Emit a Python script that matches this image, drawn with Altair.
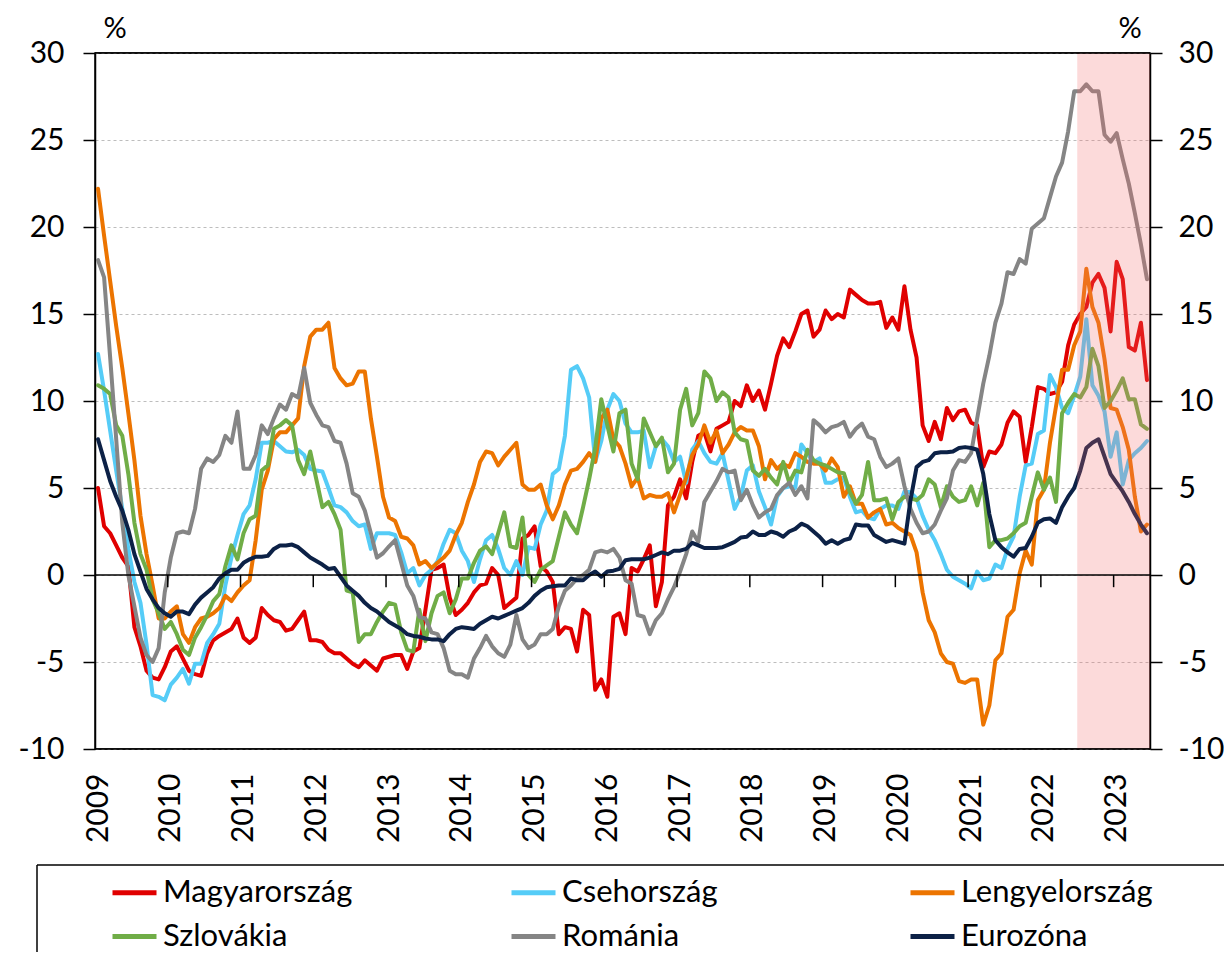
import altair as alt
import pandas as pd

# ---------------- data (monthly, Jan 2009 .. Jun 2023) ----------------
YEARS = list(range(2009, 2024))
N_MONTHS = 174
HIGHLIGHT_FROM = (2022, 7)

SERIES = ["Magyarország", "Csehország", "Lengyelország", "Szlovákia", "Románia", "Eurozóna"]
COLORS = ["#E00000", "#55CCF7", "#EC7400", "#70AD47", "#858585", "#0C2146"]

HU = [5.0, 2.8, 2.4, 1.7, 1.0, 0.5, -3.0, -4.1, -5.5, -5.9, -6.0, -5.3, -4.4, -4.1, -4.8, -5.5, -5.7, -5.8,
      -4.5, -3.75, -3.5, -3.3, -3.1, -2.5, -3.6, -3.9, -3.6, -1.9, -2.3, -2.6, -2.7, -3.2, -3.1, -2.6, -2.1,
      -3.75, -3.75, -3.85, -4.3, -4.5, -4.5, -4.8, -5.1, -5.3, -4.9, -5.2, -5.5, -4.8, -4.7, -4.6, -4.6, -5.4,
      -4.4,
      -4.2, -2.0, 0.3, 0.4, 0.6, -1.3, -2.3, -2.0, -1.6, -1.0, -0.6, -0.5, 0.4, 0.0, -1.9, -1.6, -1.3, 2.1,
      2.3, 2.8, 0.5, 0.2, -0.4, -3.4, -3.0, -3.1, -4.4, -2.0, -2.3, -6.6, -6.0, -7.0, -2.4, -2.2, -3.4, 0.4,
      0.2, 0.9, 1.7, -1.8, -0.4, 4.0, 4.5, 5.5, 4.4, 6.5, 8.0, 8.2, 7.1, 8.4, 8.6, 8.8, 10.0, 9.7, 10.9, 10.0,
      10.6, 9.5, 11.0, 12.6, 13.6, 13.1, 14.0, 15.0, 15.2, 13.7, 14.1, 15.2, 14.7, 15.0, 14.8, 16.4, 16.1,
      15.8, 15.6, 15.6, 15.7, 14.2, 14.8, 14.1, 16.6, 14.1, 12.5, 8.6, 7.7, 8.8, 7.8, 9.6, 8.9, 9.4,
      9.5, 8.75, 8.6, 6.2, 7.1, 7.0, 7.5, 8.75, 9.4, 9.1, 6.5, 8.5, 10.8, 10.7, 10.4, 10.5, 11.1, 13.2, 14.4,
      15.0, 15.4, 16.8, 17.3, 16.5, 14.0, 18.0, 17.0, 13.1, 12.9, 14.5, 11.2]

CZ = [12.7, 10.6, 8.3, 6.0, 3.8, 1.5, -0.4, -1.6, -4.0, -6.9, -7.0, -7.2, -6.3, -5.9, -5.4, -6.25, -5.1, -5.1,
      -3.9, -3.4, -2.8, -0.6, 1.0, 2.3, 3.5, 4.0, 5.5, 7.6, 7.6, 7.7, 7.4, 7.1, 7.05, 7.2, 6.9, 6.1, 6.0, 5.95,
      5.0, 4.0, 3.9, 3.6, 3.1, 2.8, 2.9, 1.5, 2.4, 2.4, 2.4, 2.3, 1.3, 0.1, 0.4, -0.6, 0.0, 0.3, 0.8, 1.8, 2.6,
      2.4, 1.4, 0.8, -0.4, 0.9, 2.0, 2.3, 1.5, 0.4, 0.0, 0.8, 0.0, 1.6, 1.5, 2.9, 3.7, 5.8, 6.1, 8.0, 11.8,
      12.0, 11.3, 10.2, 6.5, 7.7, 9.5, 10.4, 10.0, 8.7, 8.2, 8.2, 8.3, 6.2, 7.4, 7.8, 7.4, 6.5, 6.8, 5.3, 7.2,
      7.7, 7.0, 6.5, 6.4, 7.0, 5.4, 3.8, 4.5, 6.0, 6.3, 4.8, 3.9, 2.9, 4.5, 5.0, 5.1, 5.0, 7.5, 7.0, 6.5, 6.7,
      5.3, 5.3, 5.5, 5.6, 4.5, 3.6, 3.7, 3.3, 3.2, 3.8, 4.0, 4.0, 3.8, 4.8, 4.75, 4.4, 3.4, 2.6, 2.0, 1.2, 0.3,
      -0.1, -0.3,
      -0.5, -0.77, 0.2, -0.3, -0.2, 0.6, 0.4, 1.5, 2.2, 4.5, 6.3, 6.4, 8.1, 8.3, 11.5, 10.8, 9.6, 9.3, 10.3,
      11.4, 14.7, 10.9, 10.3, 9.4, 6.8, 8.2, 5.2, 6.6, 7.0, 7.3, 7.7]

PL = [22.2, 19.5, 16.9, 14.3, 11.9, 9.3, 6.6, 3.4, 1.2, -0.6, -2.5, -2.5, -2.1, -1.8, -3.4, -3.9, -3.0, -2.5,
      -2.4, -2.2, -1.9, -1.2, -1.5, -1.0, -0.6, -0.3, 2.0, 4.9, 6.0, 7.8, 8.2, 8.2, 8.6, 9.0, 12.0, 13.7, 14.1,
      14.1, 14.5, 11.9, 11.3, 10.9, 11.0, 11.7, 11.7, 9.0, 6.8, 4.5, 3.3, 3.1, 2.2, 2.1, 1.7,
      0.6, 0.8, 0.4, 0.7, 1.0, 1.4, 2.3, 3.0, 4.2, 5.2, 6.5, 7.1, 7.0, 6.3, 6.8, 7.2, 7.6, 5.2, 4.9, 4.9, 5.2,
      4.0, 3.2, 4.0, 5.2, 6.0, 6.1, 6.5, 7.0, 6.5, 9.0, 9.5, 7.8, 7.4, 6.4, 5.1, 5.6, 4.4, 4.6, 4.5, 4.5, 4.7,
      3.6, 4.6, 5.6, 6.9, 7.5, 8.6, 7.6, 8.3, 7.0, 7.5, 8.2, 8.5, 8.3, 8.3, 7.4, 5.5, 6.6, 6.1, 6.4, 6.2, 7.0,
      6.8, 6.5, 6.4, 6.4, 6.0, 6.7, 6.2, 4.5, 5.1, 4.1, 4.1, 3.3, 3.6, 3.8, 2.9, 3.0, 2.7, 2.5, 2.3, 1.3, -1.0,
      -2.6, -3.3, -4.5, -5.0, -5.1, -6.1,
      -6.2, -6.0, -6.0, -8.6, -7.5, -4.9, -4.5, -2.4, -2.0, 0.1, 1.4, 0.6, 4.3, 4.9, 7.6, 9.7, 11.8, 11.8,
      13.2, 14.0, 17.6, 15.4, 14.5, 12.4, 9.6, 9.5, 8.5, 7.2, 4.5, 2.5, 2.9]

SK = [10.9, 10.7, 10.4, 8.6, 8.0, 5.8, 3.0, 1.2, 0.3, -1.4, -2.2, -3.1, -2.7, -3.4, -4.3, -4.6, -3.6, -3.0,
      -2.3, -1.5, -1.1, 0.5, 1.7, 0.9, 2.4, 3.2, 3.4, 6.0, 6.3, 8.4, 8.6, 8.9, 8.6, 6.6, 5.8, 7.1, 5.5, 3.9,
      4.2, 3.5, 2.6, -0.9, -1.0, -3.85, -3.4, -3.4, -2.7, -2.1, -1.6, -1.7, -3.3, -4.3, -4.4,
      -2.0, -3.8, -2.2, -1.2, -1.0, -2.2, -1.4, -0.2, -0.2, 0.7, 1.4, 1.65, 1.2, 2.4, 3.6, 1.65, 1.55, 3.3,
      0.0, -0.4, 0.3, 0.55, 0.8, 2.2, 3.6, 2.9, 2.4, 3.9, 5.5, 7.3, 10.1, 8.6, 7.1, 9.3, 9.5, 6.4, 5.5, 9.0,
      8.2, 7.4, 7.9, 5.9, 6.4, 9.5, 10.7, 8.6, 9.3, 11.7, 11.3, 10.0, 10.5, 10.2, 8.2, 7.8, 7.7, 6.0, 5.7, 6.1,
      5.6, 5.2, 6.5, 5.3, 6.0, 5.9, 7.2, 6.6, 6.4, 6.3, 6.1, 5.9, 5.85, 4.75, 4.1, 4.6, 6.5, 4.3, 4.3, 4.4,
      3.2, 4.2, 4.5, 4.4, 4.3, 4.6, 5.5, 5.2, 3.9, 5.1, 4.5, 4.2,
      4.3, 5.1, 4.0, 5.3, 1.6, 2.0, 2.0, 2.1, 2.4, 2.8, 3.0, 4.5, 5.9, 4.9, 5.6, 4.2, 9.3, 9.9, 10.4, 10.2,
      10.8, 13.0, 12.0, 9.6, 10.0, 10.6, 11.3, 10.1, 10.1, 8.65, 8.4]

RO = [18.1, 17.1, 12.5, 7.8, 3.0, 0.0, -1.8, -3.6, -4.6, -5.0, -4.2, -1.0, 1.0, 2.4, 2.5, 2.4, 3.8, 6.1, 6.7,
      6.5, 6.9, 8.0, 7.6, 9.4, 6.1, 6.1, 6.9, 8.6, 8.1, 9.0, 9.8, 9.5, 10.4, 10.2, 11.9, 9.9, 9.2, 8.6, 8.5,
      7.7, 7.6, 6.4, 4.7, 4.5, 3.7, 2.4, 1.0, 1.25, 1.65, 2.0, 0.7, -0.6, -1.2,
      -2.4, -2.5, -3.3, -3.4, -4.2, -5.5, -5.7, -5.7, -5.9, -4.8, -4.2, -3.5, -4.1, -4.5, -4.7, -4.0, -2.3,
      -3.7, -4.2, -4.0, -3.4, -3.4, -3.1, -1.8, -0.9, -0.6, -0.2, 0.0, 0.3, 1.3, 1.4, 1.3, 1.5, 1.0, -0.3,
      -0.5, -2.3, -2.4, -3.4, -2.6, -2.2, -1.4, -0.7, 0.2, 1.2, 2.5, 1.9, 4.2, 4.8, 5.4, 6.1, 5.9, 6.0, 4.3,
      4.9, 4.0, 3.3, 3.6, 3.8, 4.6, 5.0, 5.3, 4.6, 5.1, 4.4, 8.9, 8.6, 8.2, 8.5, 8.6, 8.8, 7.95, 8.4, 8.7,
      7.95, 7.8, 6.8, 6.2, 6.4, 6.7, 5.1, 3.8, 3.0, 2.4, 2.5, 2.9, 3.7, 4.4, 6.0, 6.6,
      6.5, 7.0, 9.0, 11.0, 12.6, 14.5, 15.6, 17.4, 17.3, 18.15, 17.9, 19.9, 20.2, 20.5, 21.7, 22.9, 23.7,
      25.5, 27.8, 27.8, 28.2, 27.8, 27.8, 25.3, 24.9, 25.4, 23.9, 22.5, 20.8, 19.0, 17.0]

EA = [7.8, 6.6, 5.4, 4.5, 3.7, 2.6, 1.2, 0.2, -0.8, -1.4, -1.9, -2.2, -2.4, -2.1, -2.1, -2.25, -1.7, -1.3,
      -1.0, -0.7, -0.2, 0.1, 0.3, 0.3, 0.7, 0.9, 1.05, 1.05, 1.1, 1.5, 1.7, 1.7, 1.75, 1.6, 1.3, 1.0, 0.8, 0.6,
      0.35, 0.4, -0.1, -0.6, -0.9, -1.2, -1.6, -1.9, -2.1, -2.4, -2.7, -2.9, -3.1, -3.4, -3.5, -3.55,
      -3.65, -3.7, -3.7, -3.8, -3.4, -3.1, -3.0, -3.05, -3.1, -2.8, -2.6, -2.4, -2.5, -2.35, -2.2, -2.05, -1.9,
      -1.6, -1.2, -0.9, -0.7, -0.65, -0.6, -0.6, -0.2, -0.3, -0.3, 0.0, 0.2, -0.1, 0.2, 0.25, 0.35,
      0.85, 0.9, 0.9, 0.9, 1.0, 1.15, 1.3, 1.2, 1.4, 1.4, 1.5, 1.85, 1.7, 1.55, 1.55, 1.55, 1.6, 1.75, 1.9,
      2.15, 2.2, 2.5, 2.3, 2.3, 2.5, 2.4, 2.2, 2.5, 2.65,
      2.95, 2.8, 2.5, 2.2, 1.8, 2.0, 1.8, 2.0, 2.1, 2.9, 2.85, 2.85, 2.3, 2.1, 1.9, 2.0, 1.9, 1.8, 4.3, 6.2,
      6.5, 6.6, 7.0, 7.05, 7.05, 7.1, 7.3,
      7.35, 7.3, 7.2, 5.8, 3.5, 2.0, 1.6, 1.3, 1.05, 1.5, 1.55, 2.2, 3.0, 3.2, 3.25, 3.0, 3.9, 4.5, 5.0, 6.0,
      7.3, 7.6, 7.8, 6.8, 5.8, 5.3, 4.8, 4.2, 3.5, 2.9, 2.4]

VALUES = [HU, CZ, PL, SK, RO, EA]
for name, vals in zip(SERIES, VALUES):
    assert len(vals) == N_MONTHS, (name, len(vals))

Y_MIN, Y_MAX, Y_STEP = -10, 30, 5

# ---------------- tables ----------------
rows = []
for name, vals in zip(SERIES, VALUES):
    for i, v in enumerate(vals):
        rows.append({"series": name, "m": i + 0.5, "value": v})
df = pd.DataFrame(rows)

hl_start = (HIGHLIGHT_FROM[0] - YEARS[0]) * 12 + HIGHLIGHT_FROM[1] - 1
band_df = pd.DataFrame({"a": [hl_start], "b": [N_MONTHS], "top": [Y_MAX], "bot": [Y_MIN]})
zero_df = pd.DataFrame({"y": [0]})
edge_df = pd.DataFrame({"y": [Y_MIN, Y_MAX]})
ticks_df = pd.DataFrame({"b": [(y - YEARS[0]) * 12 for y in YEARS[1:]], "y0": 0.0, "y1": -0.7})
one_df = pd.DataFrame({"t": ["%"]})

FONT = "Lato"
xscale = alt.Scale(domain=[0, N_MONTHS], nice=False, zero=False)
yscale = alt.Scale(domain=[Y_MIN, Y_MAX], nice=False, zero=False)
YVALS = list(range(Y_MIN, Y_MAX + 1, Y_STEP))

x_axis = alt.Axis(values=[(y - YEARS[0]) * 12 + 0.5 for y in YEARS],
                  labelExpr=f"'' + ({YEARS[0]} + floor(datum.value / 12))",
                  labelAngle=270, labelFont=FONT, labelFontSize=30, labelColor="black",
                  ticks=False, tickSize=0, domain=False, grid=False, labelPadding=24,
                  labelOverlap=False, labelFlush=False, labelBound=False, title=None)
y_left = alt.Axis(orient="left", values=YVALS, labelExpr="'' + datum.value",
                  labelFont=FONT, labelFontSize=30, labelColor="black",
                  tickColor="black", tickSize=12, tickWidth=1.5, domain=True, domainColor="black",
                  domainWidth=1.5, grid=True, gridColor="#BDBDBD", gridDash=[3, 3], gridWidth=1,
                  labelPadding=19, title=None)
y_right = alt.Axis(orient="right", values=YVALS, labelExpr="'' + datum.value",
                   labelFont=FONT, labelFontSize=30, labelColor="black",
                   tickColor="black", tickSize=12, tickWidth=1.5, domain=True, domainColor="black",
                   domainWidth=1.5, grid=False, labelPadding=16, title=None)

color = alt.Color("series:N", scale=alt.Scale(domain=SERIES, range=COLORS),
                  legend=alt.Legend(orient="none", legendX=15, legendY=815, direction="horizontal",
                                    columns=3, symbolType="stroke", symbolSize=1936,
                                    symbolStrokeWidth=5, labelFont=FONT, labelFontSize=31,
                                    labelColor="black", labelOffset=4, columnPadding=146,
                                    rowPadding=4, gridAlign="all", padding=0, title=None,
                                    labelLimit=0))

X = lambda f: alt.X(f, scale=xscale, axis=x_axis)

layers = []
for k, name in enumerate(SERIES):
    layers.append(
        alt.Chart(df).transform_filter(alt.datum.series == name)
        .mark_line(strokeWidth=4, strokeJoin="round", strokeCap="round")
        .encode(x=X("m:Q"),
                y=alt.Y("value:Q", scale=yscale, axis=y_left if k == 0 else None),
                color=color, order="m:Q")
    )

band = alt.Chart(band_df).mark_rect(color="#F36B6B", opacity=0.25).encode(
    x=X("a:Q"), x2="b:Q",
    y=alt.Y("top:Q", scale=yscale, axis=None), y2="bot:Q")

zero_line = alt.Chart(zero_df).mark_rule(color="black", strokeWidth=1.5).encode(
    y=alt.Y("y:Q", scale=yscale, axis=None))

edges = alt.Chart(edge_df).mark_rule(color="black", strokeWidth=1.5).encode(
    y=alt.Y("y:Q", scale=yscale, axis=None))

year_ticks = alt.Chart(ticks_df).mark_rule(color="black", strokeWidth=1.5).encode(
    x=X("b:Q"),
    y=alt.Y("y0:Q", scale=yscale, axis=None), y2="y1:Q")

right_axis = alt.Chart(zero_df).mark_rule(opacity=0).encode(
    y=alt.Y("y:Q", scale=yscale, axis=y_right))

pct_left = alt.Chart(one_df).mark_text(font=FONT, fontSize=29, baseline="alphabetic", align="center",
                                       color="black").encode(text="t:N", x=alt.value(20), y=alt.value(-15))
pct_right = alt.Chart(one_df).mark_text(font=FONT, fontSize=29, baseline="alphabetic", align="center",
                                        color="black").encode(text="t:N", x=alt.value(1035), y=alt.value(-15))

frame_top = alt.Chart(one_df).mark_rule(color="black", strokeWidth=1.5).encode(
    x=alt.value(-58), x2=alt.value(1135), y=alt.value(812))
frame_left = alt.Chart(one_df).mark_rule(color="black", strokeWidth=1.5).encode(
    x=alt.value(-58), y=alt.value(812), y2=alt.value(905))

chart = alt.layer(*layers, band, zero_line, edges, year_ticks, right_axis, pct_left, pct_right,
                  frame_top, frame_left).resolve_scale(y="shared").resolve_axis(y="independent").properties(
    width=1055, height=696, autosize="none",
    padding={"left": 87, "top": 45, "right": 74, "bottom": 203},
    background="white",
).configure_view(stroke="black", strokeWidth=1.5)

chart.save("out.html", embed_options={"renderer": "svg", "actions": False})
